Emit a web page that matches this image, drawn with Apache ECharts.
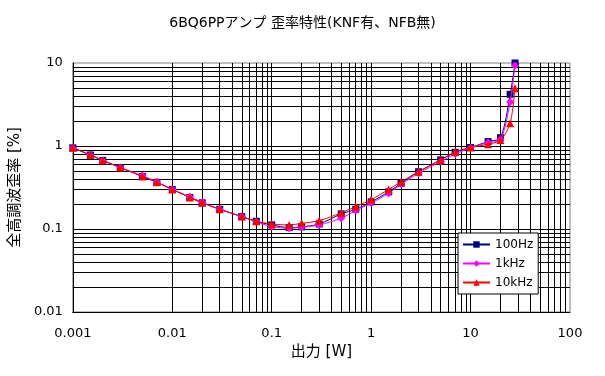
<!DOCTYPE html>
<html>
<head>
<meta charset="utf-8">
<script src="https://cdn.jsdelivr.net/npm/echarts@6/dist/echarts.min.js"></script>
<style>
  html, body { margin: 0; padding: 0; background: #fff; }
  #container { width: 605px; height: 376px; }
</style>
</head>
<body>
<div id="container"></div>
<script type="text/javascript">
    // 出力 [W]
    var power = [0.001, 0.0015, 0.002, 0.003, 0.005, 0.007, 0.01, 0.015, 0.02, 0.03, 0.05, 0.07,
                 0.1, 0.15, 0.2, 0.3, 0.5, 0.7, 1, 1.5, 2, 3, 5, 7, 10, 15, 20, 25, 28];
    // 全高調波歪率 [%]
    var thd100 = [0.95, 0.78, 0.67, 0.55, 0.43, 0.365, 0.30, 0.24, 0.207, 0.173, 0.141, 0.124,
                  0.112, 0.104, 0.106, 0.115, 0.152, 0.173, 0.212, 0.28, 0.355, 0.49, 0.68, 0.84,
                  0.96, 1.13, 1.26, 4.2, 10];
    var thd1k = [0.95, 0.78, 0.67, 0.55, 0.44, 0.37, 0.30, 0.245, 0.21, 0.173, 0.141, 0.122,
                 0.107, 0.102, 0.105, 0.112, 0.135, 0.167, 0.205, 0.27, 0.345, 0.47, 0.65, 0.80,
                 0.95, 1.1, 1.2, 3.4, 9.3];
    var thd10k = [0.95, 0.78, 0.67, 0.55, 0.43, 0.365, 0.30, 0.24, 0.207, 0.173, 0.141, 0.124,
                  0.115, 0.112, 0.117, 0.126, 0.157, 0.186, 0.226, 0.30, 0.37, 0.49, 0.68, 0.85,
                  0.96, 1.05, 1.18, 1.88, 4.95];
    var xDecades = [0.001, 0.01, 0.1, 1, 10];
    var yDecades = [0.01, 0.1, 1];
</script>
<script type="text/javascript">
    var chartDom = document.getElementById('container');
    var myChart = echarts.init(chartDom);
    var font = "'DejaVu Sans', 'Noto Sans CJK JP', sans-serif";

    function pairs(xs, ys) {
        return xs.map(function (x, i) { return [x, ys[i]]; });
    }
    function fmt(v) {
        return String(+Number(v).toPrecision(3));
    }

    // 補助目盛り (2..9 × 10^n)
    var minorLines = [];
    xDecades.forEach(function (d) {
        for (var k = 2; k <= 9; k++) minorLines.push({ xAxis: +(d * k).toPrecision(3) });
    });
    yDecades.forEach(function (d) {
        for (var k = 2; k <= 9; k++) minorLines.push({ yAxis: +(d * k).toPrecision(3) });
    });

    var option = {
        backgroundColor: '#fff',
        textStyle: { fontFamily: font },
        title: {
            text: '6BQ6PPアンプ 歪率特性(KNF有、NFB無)',
            left: 'center',
            top: 11,
            textStyle: { fontSize: 14, fontWeight: 'normal', color: '#000', fontFamily: font }
        },
        grid: {
            left: 72, right: 35, top: 63, bottom: 64,
            show: true, borderColor: '#808080', borderWidth: 1, backgroundColor: '#fff'
        },
        legend: {
            orient: 'vertical',
            left: 458, top: 233,
            z: 10,
            padding: [4, 5, 4, 4],
            itemGap: 4,
            itemWidth: 27, itemHeight: 8,
            backgroundColor: '#fff',
            borderColor: '#000', borderWidth: 1,
            textStyle: { fontSize: 12, color: '#000', fontFamily: font, lineHeight: 15 },
            data: ['100Hz', '1kHz', '10kHz']
        },
        xAxis: {
            type: 'log', logBase: 10, min: 0.001, max: 100,
            name: '出力 [W]', nameLocation: 'middle', nameGap: 33,
            nameTextStyle: { fontSize: 15, color: '#000', fontFamily: font },
            axisLine: { lineStyle: { color: '#000', width: 1 } },
            axisTick: { show: false },
            axisLabel: { color: '#000', fontSize: 13, margin: 15, formatter: fmt },
            splitLine: { show: true, showMaxLine: false, lineStyle: { color: '#000', width: 1 } }
        },
        yAxis: {
            type: 'log', logBase: 10, min: 0.01, max: 10,
            name: '全高調波歪率 [%]', nameLocation: 'middle', nameGap: 41,
            nameTextStyle: { fontSize: 15, color: '#000', fontFamily: font },
            axisLine: { show: true, lineStyle: { color: '#000', width: 1 } },
            axisTick: { show: false },
            axisLabel: { color: '#000', fontSize: 13, margin: 10, formatter: fmt },
            splitLine: { show: true, showMaxLine: false, lineStyle: { color: '#000', width: 1 } }
        },
        series: [
            {
                name: 'grid', type: 'line', data: [], silent: true, z: 1,
                markLine: {
                    silent: true, symbol: 'none', animation: false, z: 1,
                    label: { show: false },
                    lineStyle: { color: '#000', width: 1, type: 'solid' },
                    data: minorLines
                }
            },
            {
                name: '100Hz', type: 'line', smooth: 0.3, z: 3, clip: false,
                data: pairs(power, thd100),
                symbol: 'rect', symbolSize: 7,
                itemStyle: { color: '#000080' },
                lineStyle: { color: '#000080', width: 1 }
            },
            {
                name: '1kHz', type: 'line', smooth: 0.3, z: 4, clip: false,
                data: pairs(power, thd1k),
                symbol: 'diamond', symbolSize: 8,
                itemStyle: { color: '#ff00ff' },
                lineStyle: { color: '#ff00ff', width: 1 }
            },
            {
                name: '10kHz', type: 'line', smooth: 0.3, z: 5, clip: false,
                data: pairs(power, thd10k),
                symbol: 'triangle', symbolSize: 8,
                itemStyle: { color: '#ff0000' },
                lineStyle: { color: '#ff0000', width: 1 }
            }
        ],
        animation: false
    };

    option && myChart.setOption(option);
</script>
</body>
</html>
